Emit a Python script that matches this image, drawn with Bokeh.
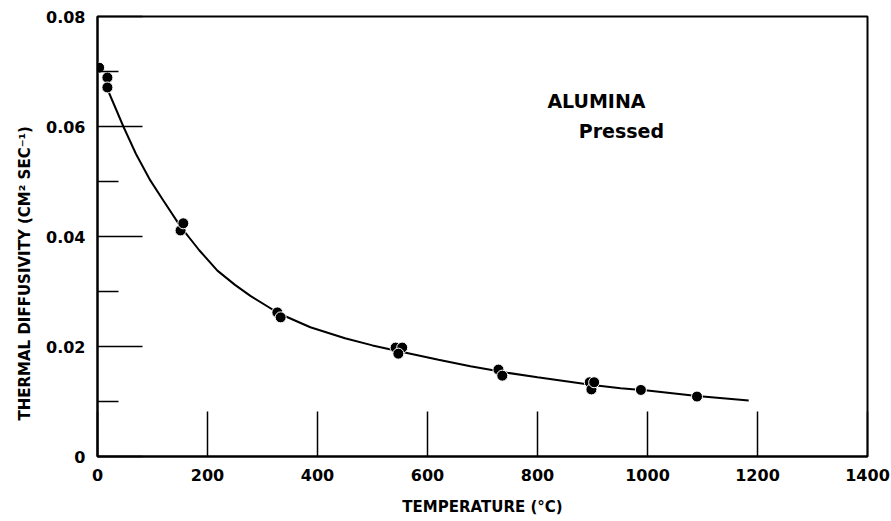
from bokeh.plotting import figure
from bokeh.models import Range1d, FixedTicker, Label, Title
from bokeh.embed import file_html
from bokeh.resources import INLINE

# measured data points (temperature °C, thermal diffusivity cm^2/s)
temp_pts = [3, 18, 18, 151, 156, 327, 333, 542, 554, 547, 729, 736, 895, 898, 903, 988, 1090]
diff_pts = [0.0707, 0.0689, 0.0671, 0.0411, 0.0424, 0.0262, 0.0253, 0.0198, 0.0198, 0.0187,
            0.0158, 0.0147, 0.0135, 0.0122, 0.0135, 0.0121, 0.0109]

# fitted curve
curve_t = [15, 30, 47, 70, 96, 120, 151, 185, 218, 250, 278, 330, 387, 450, 500, 550,
           620, 678, 740, 800, 900, 951, 1000, 1090, 1184]
curve_d = [0.0675, 0.0640, 0.0600, 0.0550, 0.0502, 0.0465, 0.0418, 0.0375, 0.0338, 0.0312,
           0.0292, 0.0260, 0.0235, 0.0215, 0.0202, 0.0191, 0.0176, 0.0164, 0.0153, 0.0144,
           0.0130, 0.0124, 0.0120, 0.0110, 0.0102]

x_ticks = [0, 200, 400, 600, 800, 1000, 1200, 1400]
y_ticks = [0, 0.02, 0.04, 0.06, 0.08]
y_minor = [0.01, 0.03, 0.05, 0.07]
y_labels = {0: "0", 0.02: "0.02", 0.04: "0.04", 0.06: "0.06", 0.08: "0.08"}

FONT = "DejaVu Sans"

p = figure(width=891, height=521, output_backend="svg", toolbar_location=None,
           x_range=Range1d(0, 1400), y_range=Range1d(0, 0.08),
           min_border_left=97, min_border_right=24, min_border_top=16, min_border_bottom=65)
p.grid.visible = False
p.outline_line_color = "black"
p.outline_line_width = 2
p.background_fill_color = "white"
p.border_fill_color = "white"

xa = p.xaxis[0]
xa.ticker = FixedTicker(ticks=x_ticks)
xa.major_tick_in = 45
xa.major_tick_out = 0
xa.minor_tick_in = 0
xa.minor_tick_out = 0
xa.axis_line_width = 2
xa.major_tick_line_width = 1.5
xa.major_label_standoff = 12
xa.major_label_text_font = FONT
xa.major_label_text_font_size = "16px"
xa.major_label_text_font_style = "bold"
xa.major_label_text_color = "black"
xa.axis_label = "TEMPERATURE (°C)"
xa.axis_label_text_font = FONT
xa.axis_label_text_font_size = "15px"
xa.axis_label_text_font_style = "bold"
xa.axis_label_text_color = "black"
xa.axis_label_standoff = 14

ya = p.yaxis[0]
ya.ticker = FixedTicker(ticks=y_ticks, minor_ticks=y_minor)
ya.major_label_overrides = {k: v for k, v in y_labels.items()}
ya.major_tick_in = 45
ya.major_tick_out = 0
ya.minor_tick_in = 21
ya.minor_tick_out = 0
ya.axis_line_width = 2
ya.major_tick_line_width = 1.5
ya.minor_tick_line_width = 1.5
ya.major_label_standoff = 12
ya.major_label_text_font = FONT
ya.major_label_text_font_size = "16px"
ya.major_label_text_font_style = "bold"
ya.major_label_text_color = "black"

p.line(curve_t, curve_d, line_color="black", line_width=2)
p.scatter(temp_pts, diff_pts, size=11, fill_color="black", line_color="white", line_width=1)

p.add_layout(Title(text="THERMAL DIFFUSIVITY (CM² SEC⁻¹)", align="left", offset=36,
                   text_font=FONT, text_font_size="15px", text_font_style="bold",
                   text_color="black", standoff=20), "left")
p.add_layout(Label(x=818, y=0.0647, text="ALUMINA", text_align="left", text_baseline="middle",
                   text_font=FONT, text_font_size="19px", text_font_style="bold",
                   text_color="black"))
p.add_layout(Label(x=875, y=0.0591, text="Pressed", text_align="left", text_baseline="middle",
                   text_font=FONT, text_font_size="19px", text_font_style="bold",
                   text_color="black"))

open("out.html", "w").write(file_html(p, INLINE))
